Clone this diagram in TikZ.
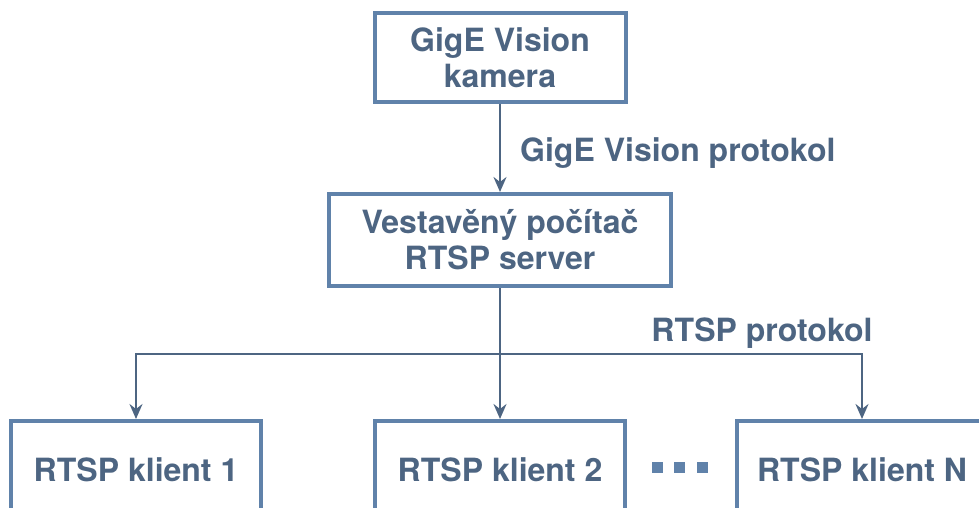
\documentclass[tikz,border=0pt]{standalone}
\usepackage{fontspec}
\setmainfont{TeX Gyre Heros}
\usetikzlibrary{arrows.meta}
\definecolor{boxc}{RGB}{96,130,170}
\definecolor{txtc}{RGB}{77,101,130}
\begin{document}
\begin{tikzpicture}[x=1pt,y=-1pt,
  box/.style={draw=boxc, line width=4pt, fill=white, inner sep=0pt, align=center,
    font=\fontsize{32}{36}\selectfont\bfseries, text=txtc},
  conn/.style={draw=txtc, line width=2.3pt, -{Stealth[length=15pt,width=13pt,inset=5pt]}},
  plain/.style={draw=txtc, line width=2.3pt},
  lbl/.style={text=txtc, inner sep=0pt, font=\fontsize{32}{36}\selectfont\bfseries},
  dotsq/.style={fill=boxc, draw=none, minimum size=11pt, inner sep=0pt}]
\useasboundingbox (0,0) rectangle (979,508);
\clip (0,0) rectangle (979,508);
\node[box, minimum width=251pt, minimum height=89pt] (cam) at (500,57.5) {GigE Vision\\kamera};
\node[box, minimum width=342pt, minimum height=92pt] (srv) at (500,240) {Vestavěný počítač\\RTSP server};
\node[box, minimum width=250pt, minimum height=98pt] (k1) at (136,470) {RTSP klient 1};
\node[box, minimum width=250pt, minimum height=98pt] (k2) at (500,470) {RTSP klient 2};
\node[box, minimum width=250pt, minimum height=98pt] (kn) at (862,470) {RTSP klient N};
\node[dotsq] (d1) at (657.5,467.5) {};
\node[dotsq] (d2) at (679.5,467.5) {};
\node[dotsq] (d3) at (702.5,467.5) {};
\coordinate (j) at (500,354);
\draw[conn] (cam) -- (srv);
\draw[plain] (srv) -- (j);
\draw[conn] (j) -| (k1);
\draw[conn] (j) -- (k2);
\draw[conn] (j) -| (kn);
\node[lbl, anchor=west] (l1) at (520,153) {GigE Vision protokol};
\node[lbl] (l2) at (762,333) {RTSP protokol};
\end{tikzpicture}
\end{document}
